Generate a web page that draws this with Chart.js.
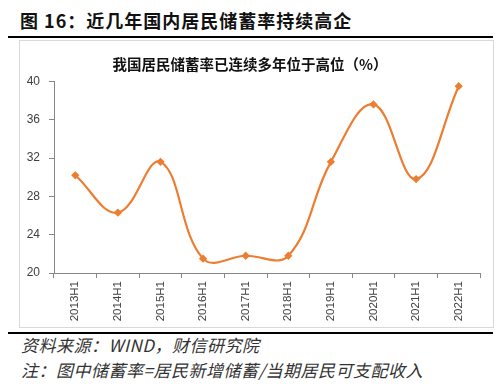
<!DOCTYPE html>
<html>
<head>
<meta charset="utf-8">
<script src="https://cdn.jsdelivr.net/npm/chart.js@4"></script>
<style>
  body { margin: 0; width: 500px; height: 387px; background: #fff; position: relative; overflow: hidden;
         font-family: "Noto Sans CJK SC", sans-serif; }
  #title { position: absolute; left: 20px; top: 7px; font-size: 18px; font-weight: bold; color: #111; letter-spacing: 1px; }
  .rule { position: absolute; left: 8px; width: 485px; height: 2px; background: #000; }
  #box { position: absolute; left: 19px; top: 40px; width: 473px; height: 286px; border: 1px solid #d9d9d9; }
  #chart2 { position: absolute; left: 0; top: 0; }
  .note { position: absolute; left: 21px; font-size: 17px; letter-spacing: 0.5px; font-style: italic; color: #333; }
</style>
</head>
<body>
<div id="title">图 16：近几年国内居民储蓄率持续高企</div>
<div class="rule" style="top:36px"></div>
<div id="box"><canvas id="chart2" width="473" height="286"></canvas></div>
<div class="rule" style="top:332px"></div>
<div class="note" style="top:332px">资料来源：WIND，财信研究院</div>
<div class="note" style="top:357px">注：图中储蓄率=居民新增储蓄/当期居民可支配收入</div>
<script>
  // 居民储蓄率 (%)
  labels = ['2013H1', '2014H1', '2015H1', '2016H1', '2017H1', '2018H1', '2019H1', '2020H1', '2021H1', '2022H1'];
  values = [30.2, 26.3, 31.6, 21.5, 21.8, 21.8, 31.6, 37.6, 29.8, 39.5];
  yTicks = [20, 24, 28, 32, 36, 40];

  new Chart(document.getElementById("chart2"), {
    type: 'line',
    data: {
      labels: labels,
      datasets: [{
        label: '储蓄率',
        data: values,
        borderColor: '#ED7D31',
        backgroundColor: '#ED7D31',
        borderWidth: 2.2,
        pointStyle: 'rectRot',
        pointRadius: 2.6,
        tension: 0.4
      }]
    },
    options: {
      responsive: false,
      animation: false,
      layout: { padding: { right: 13, left: 0, bottom: 0 } },
      plugins: {
        legend: { display: false },
        tooltip: { enabled: false },
        title: {
          display: true,
          text: '我国居民储蓄率已连续多年位于高位（%）',
          color: '#111',
          font: { family: 'Noto Sans CJK SC', size: 14.5, weight: 'bold' },
          padding: { top: 15, bottom: 8 }
        }
      },
      scales: {
        x: {
          offset: true,
          grid: { offset: true, drawOnChartArea: false, tickLength: 5, color: '#868686' },
          border: { color: '#868686' },
          ticks: { minRotation: 90, maxRotation: 90, padding: 3, color: '#404040',
                   font: { family: 'Liberation Sans', size: 11.5 } },
          afterFit: function (s) { s.height = 54; }
        },
        y: {
          min: 20, max: 40,
          afterBuildTicks: function (s) { s.ticks = yTicks.map(function (v) { return { value: v }; }); },
          grid: { drawOnChartArea: false, tickLength: 5, color: '#868686' },
          border: { color: '#868686' },
          ticks: { padding: 9, color: '#404040', font: { family: 'Liberation Sans', size: 12 } },
          afterFit: function (s) { s.width = 34; }
        }
      }
    }
  });
</script>
</body>
</html>
